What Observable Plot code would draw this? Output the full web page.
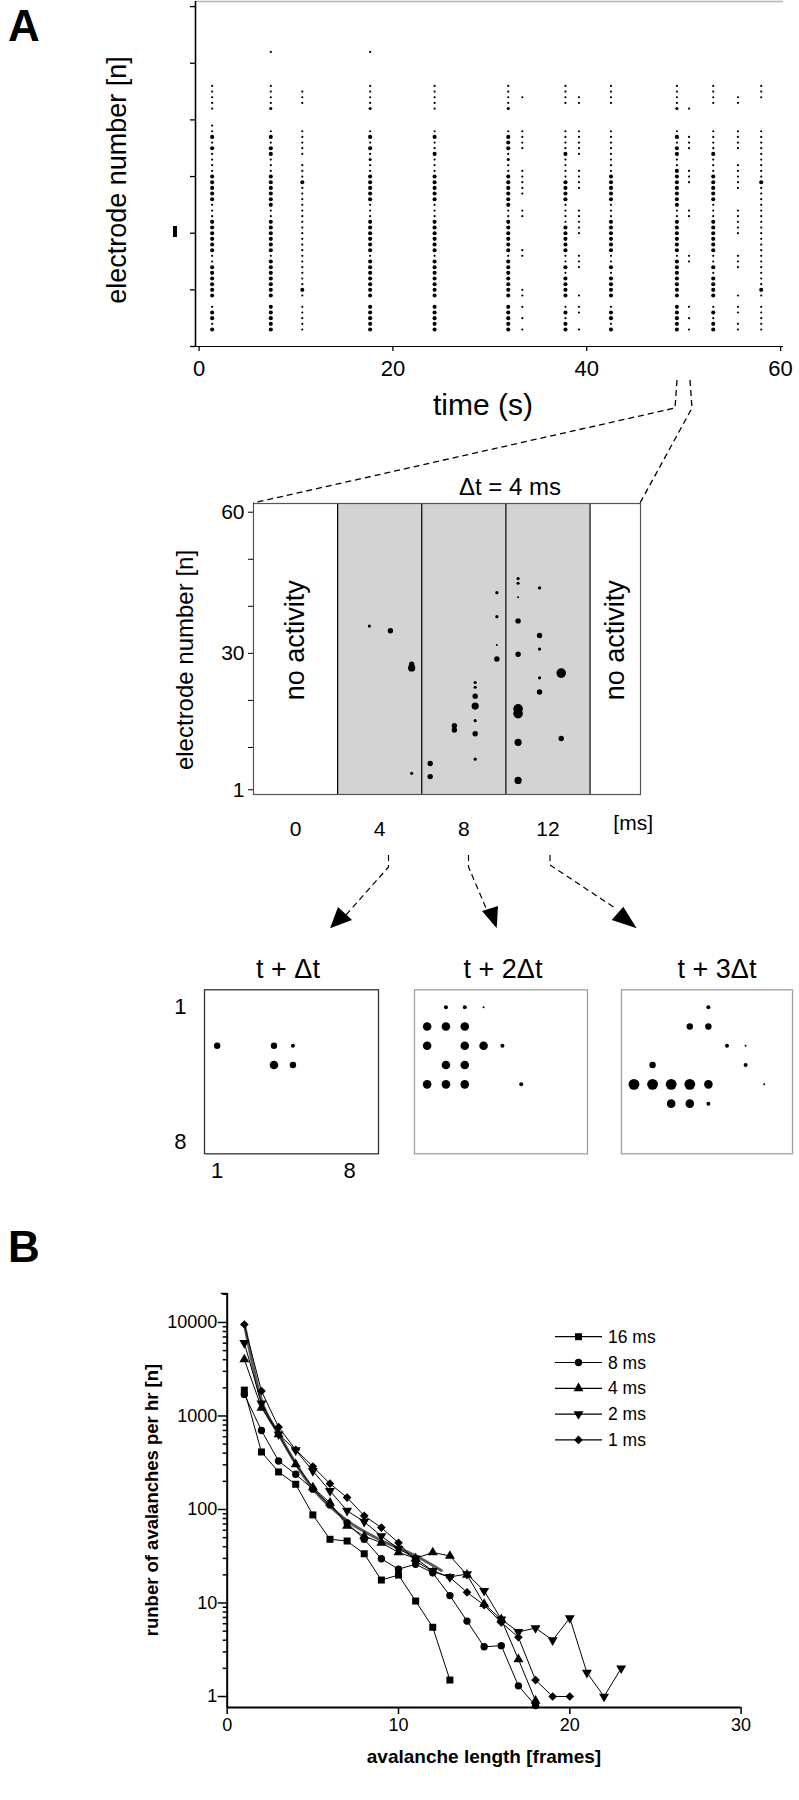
<!DOCTYPE html>
<html><head><meta charset="utf-8">
<script src="https://cdn.jsdelivr.net/npm/d3@7"></script>
<script src="https://cdn.jsdelivr.net/npm/@observablehq/plot@0.6"></script>
<style>
body{margin:0;background:#fff;}
#fig{position:relative;width:799px;height:1800px;overflow:hidden;background:#fff;}
#fig svg{overflow:visible;}
</style></head><body><div id="fig"></div>
<script>
// ---------------- DATA ----------------
// Panel A (top): raster of network bursts
const rasterTimes = [1.35, 7.4, 10.65, 17.65, 24.3, 31.9, 33.35, 37.8, 39.2, 42.5, 49.3, 50.55, 53.05, 55.6, 58.0];
const rasterRows = [52, 46, 45, 44, 43, 42, ...d3.range(39, 8, -1), 7, 6, 5, 4, 3];
// one character per row: B = big spot, m = medium, s = small, . = none
const rasterPatterns = [
  "." + "sssss" + "ssBsBssssBBBBBsssBBBBBBssBBBBBB" + "s" + "BBsB",
  "s" + "ssssm" + ".sBsBBsssBBBBBBssBBBBBBsBBBBBBB" + "B" + "BBBB",
  "." + ".sss." + ".sssss.sssBssssssssssssssssssBs" + "s" + "ssss",
  "s" + "ssssm" + ".sBsBsmssBBBBBsssBBBBBBsBBBBBBB" + "B" + "BBBB",
  "." + "sssss" + ".sBssBsssBBBBBsssBBBBBBsBBBBBBB" + "B" + "BBBB",
  "." + "ssssm" + ".sBBBsmssBBBBBBssBBBBBBsBBBBBBB" + "B" + "BBBB",
  "." + "..s.." + ".ssss...sssss..ss.....ss.....ss" + "s" + ".s.s",
  "." + "ssss." + ".ssssBssssBBBBssssBBBBBssBsBBBB" + "s" + "BsBB",
  "." + "..ss." + ".sssss..ssss...sssss...sss....s" + "s" + "s..s",
  "." + "ssss." + ".ssssssssBBBBBsssBBBBBBssBsBBBB" + "s" + "BBsB",
  "." + "ssssm" + ".sBsBBssBBBBBBBssBBBBBBsBBBBBBB" + "B" + "BBBB",
  "." + "....s" + "..sss...sss....ss......ss......" + "s" + ".s.s",
  "." + "ssss." + ".ssssBsssBBBBBsssBBBBBBssBsBBBB" + "s" + "BsBB",
  "." + "..ss." + ".ssss..sssss...sssss...sss....s" + "s" + "s.ss",
  "." + "sss.." + ".sssssssssBssssssssssssssssssBs" + "s" + "ssss"
];
const rasterTicksX = [0, 20, 40, 60];
const rasterTicksY = [0, 10, 20, 30, 40, 50, 60];

// Panel A (middle): one avalanche in 4 ms bins
const binEdges = [-2, 2, 6, 10, 14, 16.4];
const binActive = [0, 1, 1, 1, 0];
const binTickValues = [0, 4, 8, 12];
const burstMs = [3.51, 4.51, 5.52, 5.52, 5.52, 6.4, 6.4, 7.55, 7.55, 8.54, 8.54, 8.54, 8.54, 8.54, 8.54, 8.54,
  9.57, 9.57, 9.57, 9.57, 10.58, 10.58, 10.58, 10.58, 10.58, 10.58, 10.58, 10.58, 10.58,
  11.6, 11.6, 11.6, 11.6, 11.6, 12.63, 12.63];
const burstElectrode = [35.8, 34.8, 27.7, 26.9, 4.5, 6.6, 3.8, 14.6, 13.7, 23.8, 22.8, 20.9, 18.8, 15.7, 12.9, 7.5,
  42.9, 37.8, 31.8, 28.8, 45.9, 44.9, 41.9, 36.9, 29.8, 18.2, 17.2, 11.1, 3.0,
  43.9, 33.8, 30.9, 24.8, 21.8, 25.8, 11.9];
const burstSize = [2, 3, 3, 4, 2, 3, 3, 3, 3, 2, 2, 3, 4, 2, 3, 2,
  2, 2, 1, 3, 2, 2, 1, 3, 3, 5, 5, 4, 4,
  2, 3, 2, 2, 3, 5, 3];
const burstTicksY = [1, 10, 20, 30, 40, 50, 60];
const burstLabelsY = [1, 30, 60];

// Panel A (bottom): 8x8 electrode grid per frame (column, row, spot size)
const gridTitles = ["t + Δt", "t + 2Δt", "t + 3Δt"];
const gridCol = [
  [1, 4, 5, 4, 5],
  [2, 3, 4, 1, 2, 3, 1, 3, 4, 5, 2, 3, 1, 2, 3, 6],
  [5, 4, 5, 6, 2, 7, 7, 1, 2, 3, 4, 5, 8, 3, 4, 5]
];
const gridRow = [
  [3, 3, 3, 4, 4],
  [1, 1, 1, 2, 2, 2, 3, 3, 3, 3, 4, 4, 5, 5, 5, 5],
  [1, 2, 2, 3, 4, 3, 4, 5, 5, 5, 5, 5, 5, 6, 6, 6]
];
const gridSize = [
  [3, 3, 2, 4, 3],
  [2, 2, 1, 4, 4, 4, 4, 4, 4, 2, 4, 4, 4, 4, 4, 2],
  [2, 3, 3, 2, 3, 1, 2, 5, 5, 5, 5, 4, 1, 4, 4, 2]
];
const gridTicks = [1, 8];

// Panel B: avalanche length distributions
const seriesNames = ["16 ms", "8 ms", "4 ms", "2 ms", "1 ms"];
const counts16 = [1890, 412, 252, 186, 87.5, 48, 46, 33.6, 17.6, 19.9, 10.5, 5.5, 1.5];
const counts8 = [1700, 700, 330, 238, 165, 112, 72, 48, 29.7, 23, 26, 21, 12, 6.4, 3.4, 3.5, 1.3, 0.8];
const counts4 = [4020, 1224, 636, 304, 172, 118, 67, 52, 44, 34.7, 30, 34.7, 31.9, 20, 9.75, 6.7, 2.5, 0.9];
const counts2 = [6040, 1360, 636, 430, 258, 158, 97, 74, 52, 38, 30, 22, 19, 20.4, 13.5, 6.7, 4.9, 5.4, 4.0, 6.9, 1.8, 1.0, 2.0];
const counts1 = [9500, 1845, 760, 435, 288, 189, 134, 85.5, 64, 44, 28, 21.8, 18.8, 13, 9.5, 6.2, 4.3, 1.5, 1.0, 1.0];
const fitLength = [1, 2, 3, 5, 7, 9, 11, 12.5];
const fitCount = [9700, 1465, 645, 167, 76, 46.6, 32, 22.3];
const bTicksX = [0, 10, 20, 30];
const bTicksY = [1, 10, 100, 1000, 10000];

// ---------------- LAYOUT ----------------
const W = 799;
const FONT = "'Liberation Sans', Arial, Helvetica, sans-serif";
const fig = document.getElementById("fig");
function place(node, top) {
  const d = document.createElement("div");
  d.style.position = "absolute"; d.style.left = "0px"; d.style.top = top + "px";
  d.appendChild(node); fig.appendChild(d);
}
const baseStyle = {fontFamily: FONT, color: "black", background: "transparent", overflow: "visible"};

// ---- raster ----
const rasterDots = [];
rasterPatterns.forEach((p, i) => {
  for (let j = 0; j < p.length && j < rasterRows.length; j++) {
    if (p[j] !== ".") rasterDots.push({t: rasterTimes[i], e: rasterRows[j], s: p[j]});
  }
});
const rasterR = {B: 2.05, m: 1.55, s: 1.1};
const rxDom = [-0.37, 60.3], ryDom = [0, 60.9];
place(Plot.plot({
  width: W, height: 440,
  marginLeft: 195, marginRight: 16, marginTop: 1, marginBottom: 94,
  style: {...baseStyle, fontSize: "22px"},
  x: {domain: rxDom},
  y: {domain: ryDom},
  marks: [
    Plot.ruleY([ryDom[1]], {stroke: "#b5b5b5", strokeWidth: 1.5}),
    Plot.ruleY([ryDom[0]], {stroke: "black", strokeWidth: 1.2}),
    Plot.ruleX([rxDom[0]], {stroke: "black", strokeWidth: 1.6}),
    Plot.axisY({ticks: rasterTicksY, tickSize: 5, tickFormat: () => "", label: null, strokeWidth: 1.3}),
    Plot.axisX({ticks: rasterTicksX, tickSize: 5, tickPadding: 9, label: null, fontSize: 22, strokeWidth: 1.3}),
    ...Object.entries(rasterR).map(([k, r]) =>
      Plot.dot(rasterDots.filter(d => d.s === k), {x: "t", y: "e", r, fill: "black", stroke: null}))
  ]
}), 0);

// ---- avalanche ----
const bins = binActive.map((a, i) => ({x1: binEdges[i], x2: binEdges[i + 1], a}));
const burst = burstMs.map((m, i) => ({m, e: burstElectrode[i], s: burstSize[i]}));
const burstR = {1: 1.0, 2: 1.6, 3: 2.7, 4: 3.6, 5: 4.8};
const byDom = [0, 61.85];
place(Plot.plot({
  width: W, height: 400,
  marginLeft: 253, marginRight: W - 640, marginTop: 33, marginBottom: 76,
  style: {...baseStyle, fontSize: "21px"},
  x: {domain: [binEdges[0], binEdges[binEdges.length - 1]]},
  y: {domain: byDom},
  marks: [
    Plot.rect(bins, {x1: "x1", x2: "x2", y1: byDom[0], y2: byDom[1], fill: d => d.a ? "#d3d3d3" : "white"}),
    Plot.ruleX(binEdges.slice(1, -1), {stroke: "black", strokeWidth: 1.2}),
    Plot.frame({stroke: "#555", strokeWidth: 1.2}),
    Plot.text(bins.filter(d => !d.a), {x: d => (d.x1 + d.x2) / 2, y: 32.8, text: () => "no activity", rotate: -90, fontSize: 27, fill: "black"}),
    ...Object.entries(burstR).map(([k, r]) =>
      Plot.dot(burst.filter(d => d.s === +k), {x: "m", y: "e", r, fill: "black", stroke: null})),
    Plot.axisY({ticks: burstTicksY, tickSize: 5, tickPadding: 4, tickFormat: d => burstLabelsY.includes(d) ? d : "", label: null, fontSize: 21}),
    Plot.axisX({ticks: binTickValues, tickSize: 0, tickPadding: 27, label: null, fontSize: 21}),
    Plot.text(["[ms]"], {x: binEdges[binEdges.length - 1] - 0.35, frameAnchor: "bottom", dy: 35, fontSize: 21})
  ]
}), 470);

// ---- grids ----
const gridBoxes = [[204, 378], [414, 587], [621, 792]];
const gridStroke = ["#333", "#a0a0a0", "#a0a0a0"];
const gridR = {1: 1.0, 2: 2.0, 3: 3.2, 4: 4.3, 5: 5.4};
const gxDom = [0.33, 9.52], gyDom = [8.6, 0.1];
gridTitles.forEach((title, g) => {
  const dots = gridCol[g].map((c, i) => ({c, r: gridRow[g][i], s: gridSize[g][i]}));
  const [l, r] = gridBoxes[g];
  const marks = [
    Plot.frame({stroke: gridStroke[g], strokeWidth: 1.3}),
    ...Object.entries(gridR).map(([k, rr]) =>
      Plot.dot(dots.filter(d => d.s === +k), {x: "c", y: "r", r: rr, fill: "black", stroke: null}))
  ];
  if (g === 0) {
    marks.push(Plot.axisY({ticks: gridTicks, tickSize: 0, tickPadding: 18, label: null, fontSize: 22}));
    marks.push(Plot.axisX({ticks: gridTicks, tickSize: 0, tickPadding: 9, label: null, fontSize: 22}));
  }
  place(Plot.plot({
    width: W, height: 250,
    marginLeft: l, marginRight: W - r, marginTop: 989.3 - 940, marginBottom: 940 + 250 - 1153.3,
    style: {...baseStyle, fontSize: "22px"},
    x: {domain: gxDom, axis: null},
    y: {domain: gyDom, axis: null},
    marks
  }), 940);
});

// ---- panel B ----
const symDown = {draw(context, size) {
  const y = -Math.sqrt(size / (Math.sqrt(3) * 3));
  context.moveTo(0, -y * 2);
  context.lineTo(-Math.sqrt(3) * y, y);
  context.lineTo(Math.sqrt(3) * y, y);
  context.closePath();
}};
const symbols = [d3.symbolSquare, d3.symbolCircle, d3.symbolTriangle, symDown, d3.symbolDiamond2];
const symR = [3.95, 3.7, 3.7, 3.7, 3.9];
const allCounts = [counts16, counts8, counts4, counts2, counts1];
const series = allCounts.map((arr, k) => arr.map((v, i) => ({len: i + 1, v, k})));
const fit = fitLength.map((x, i) => ({x, y: fitCount[i]}));
const bYDom = [0.763, 20400];
const minorY = [];
for (const dec of [1, 10, 100, 1000, 10000]) for (let m = 2; m <= 9; m++) if (dec * m < bYDom[1]) minorY.push(dec * m);
place(Plot.plot({
  width: W, height: 550,
  marginLeft: 226.7, marginRight: W - 740.6, marginTop: 43, marginBottom: 93,
  style: {...baseStyle, fontSize: "18px"},
  x: {domain: [0, 30]},
  y: {type: "log", domain: bYDom},
  marks: [
    Plot.ruleX([0], {stroke: "black", strokeWidth: 2}),
    Plot.ruleY([bYDom[0]], {stroke: "black", strokeWidth: 2}),
    Plot.axisY({ticks: minorY, tickSize: 4, tickFormat: () => "", label: null, strokeWidth: 1.5}),
    Plot.axisY({ticks: [bYDom[1]], tickSize: 6, tickFormat: () => "", label: null, strokeWidth: 1.5}),
    Plot.axisY({ticks: bTicksY, tickSize: 9, tickPadding: 1, tickFormat: d => String(d), label: null, strokeWidth: 1.5, fontSize: 18}),
    Plot.axisX({ticks: bTicksX, tickSize: 7, tickPadding: 4, label: null, strokeWidth: 1.5, fontSize: 18}),
    Plot.line(fit, {x: "x", y: "y", stroke: "#5a5a5a", strokeWidth: 3, curve: "monotone-x"}),
    ...series.map(s => Plot.line(s, {x: "len", y: "v", stroke: "black", strokeWidth: 1})),
    ...series.map((s, k) => Plot.dot(s, {x: "len", y: "v", symbol: symbols[k], r: symR[k], fill: "black", stroke: null}))
  ]
}), 1250);

// ---------------- OVERLAY (labels, connectors) ----------------
const svg = d3.select(fig).append("svg")
  .attr("width", W).attr("height", 1800)
  .style("position", "absolute").style("left", "0px").style("top", "0px")
  .style("font-family", FONT);

function txt(x, y, s, size, opts = {}) {
  const t = svg.append("text").attr("x", x).attr("y", y).text(s)
    .attr("font-size", size).attr("text-anchor", opts.anchor || "middle")
    .attr("font-weight", opts.bold ? "bold" : "normal").attr("fill", "black");
  if (opts.rotate) t.attr("transform", `rotate(${opts.rotate},${x},${y})`);
  return t;
}
txt(8, 41, "A", 44, {anchor: "start", bold: true});
txt(8, 1262, "B", 44, {anchor: "start", bold: true});
txt(126, 180, "electrode number [n]", 27, {rotate: -90});
svg.append("rect").attr("x", 173).attr("y", 226).attr("width", 4).attr("height", 11).attr("fill", "black");
txt(483, 415, "time (s)", 30);
txt(193, 660, "electrode number  [n]", 24, {rotate: -90});
txt(510, 495, "Δt = 4 ms", 24);
[288, 503, 717].forEach((x, i) => txt(x, 978, gridTitles[i], 27));
txt(158, 1500, "runber of avalanches per hr [n]", 18.5, {rotate: -90, bold: true});
txt(484, 1763, "avalanche length [frames]", 19, {bold: true});

// legend
seriesNames.forEach((name, k) => {
  const y = 1336.7 + k * 25.8;
  svg.append("line").attr("x1", 555).attr("x2", 602).attr("y1", y).attr("y2", y).attr("stroke", "black").attr("stroke-width", 1.2);
  svg.append("path").attr("d", d3.symbol(symbols[k], Math.PI * symR[k] * symR[k])()).attr("transform", `translate(578.5,${y})`).attr("fill", "black");
  txt(608, y + 6, name, 17.5, {anchor: "start"});
});

// dashed connectors
const dash = "6,4";
function dpath(d, w = 1.3) {
  svg.append("path").attr("d", d).attr("fill", "none").attr("stroke", "black").attr("stroke-width", w).attr("stroke-dasharray", dash);
}
dpath("M677,380 L675,408 L253,503");
dpath("M690,380 L692,408 L640,503");
function arrow(pts, tip, base1, base2) {
  dpath("M" + pts.map(p => p.join(",")).join(" L"), 1.2);
  svg.append("path").attr("d", `M${tip[0]},${tip[1]} L${base1[0]},${base1[1]} L${base2[0]},${base2[1]} Z`).attr("fill", "black");
}
arrow([[388.5, 855], [388.5, 867], [346, 915]], [330, 928.3], [338, 907], [352, 920]);
arrow([[468.5, 855], [468.5, 867], [486, 908]], [496.7, 928.3], [482, 911], [498, 906]);
arrow([[550, 855], [550, 865], [615, 908]], [636.7, 928.3], [611.7, 920], [623.3, 906.7]);
</script></body></html>
